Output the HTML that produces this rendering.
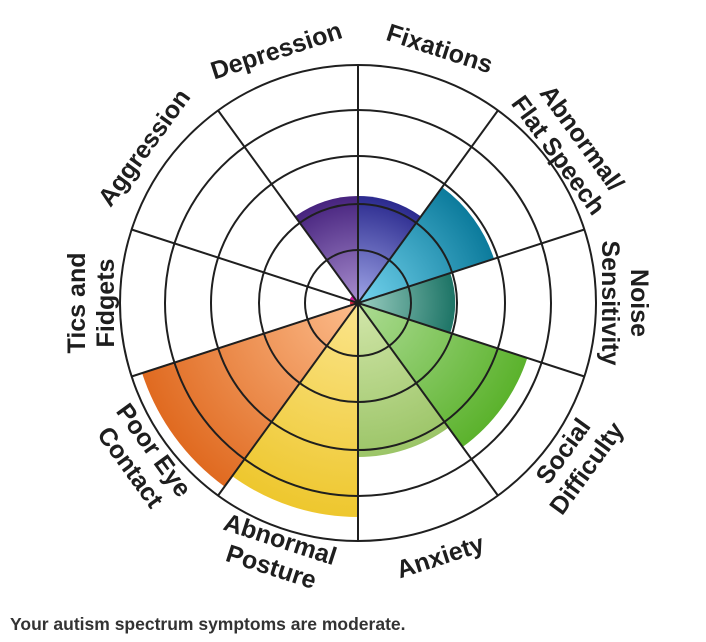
<!DOCTYPE html>
<html><head><meta charset="utf-8"><style>
html,body{margin:0;padding:0;background:#fff;width:706px;height:642px;overflow:hidden}
svg{position:absolute;left:0;top:0}
.cap{position:absolute;left:10px;top:614px;font:bold 17.5px "Liberation Sans",sans-serif;color:#333}
text{font-family:"Liberation Sans",sans-serif;font-weight:bold;font-size:25px;fill:#1e1e1e}
</style></head><body>
<svg width="706" height="642" viewBox="0 0 706 642">
<defs>
<radialGradient id="gFix" gradientUnits="userSpaceOnUse" cx="358" cy="303" r="107"><stop offset="0" stop-color="#a0a6e8"/><stop offset="1" stop-color="#2b2a8e"/></radialGradient>
<radialGradient id="gDep" gradientUnits="userSpaceOnUse" cx="358" cy="303" r="107"><stop offset="0" stop-color="#a98fd0"/><stop offset="1" stop-color="#47237e"/></radialGradient>
<radialGradient id="gFlat" gradientUnits="userSpaceOnUse" cx="358" cy="303" r="143"><stop offset="0" stop-color="#74d4ee"/><stop offset="1" stop-color="#0c7b9c"/></radialGradient>
<radialGradient id="gNoise" gradientUnits="userSpaceOnUse" cx="358" cy="303" r="97"><stop offset="0" stop-color="#9ccfc2"/><stop offset="1" stop-color="#1d7466"/></radialGradient>
<radialGradient id="gSoc" gradientUnits="userSpaceOnUse" cx="358" cy="303" r="178"><stop offset="0" stop-color="#addc94"/><stop offset="1" stop-color="#5bb22c"/></radialGradient>
<radialGradient id="gAnx" gradientUnits="userSpaceOnUse" cx="358" cy="303" r="154"><stop offset="0" stop-color="#d2e6aa"/><stop offset="1" stop-color="#9cc568"/></radialGradient>
<radialGradient id="gPos" gradientUnits="userSpaceOnUse" cx="358" cy="303" r="214"><stop offset="0" stop-color="#fbe58c"/><stop offset="1" stop-color="#eec72e"/></radialGradient>
<radialGradient id="gEye" gradientUnits="userSpaceOnUse" cx="358" cy="303" r="227"><stop offset="0" stop-color="#fcbc8c"/><stop offset="1" stop-color="#e06a20"/></radialGradient>
</defs>
<path d="M358,303 L358,196 A107,107 0 0 1 420.9,216.4 Z" fill="url(#gFix)"/>
<path d="M358,303 L442.1,187.3 A143,143 0 0 1 494.0,258.8 Z" fill="url(#gFlat)"/>
<path d="M358,303 L450.3,273.0 A97,97 0 0 1 450.3,333.0 Z" fill="url(#gNoise)"/>
<path d="M358,303 L527.3,358.0 A178,178 0 0 1 462.6,447.0 Z" fill="url(#gSoc)"/>
<path d="M358,303 L448.5,427.6 A154,154 0 0 1 358,457 Z" fill="url(#gAnx)"/>
<path d="M358,303 L358,517 A214,214 0 0 1 232.2,476.1 Z" fill="url(#gPos)"/>
<path d="M358,303 L224.6,486.6 A227,227 0 0 1 142.1,373.1 Z" fill="url(#gEye)"/>
<path d="M358,303 L350.4,305.5 A8,8 0 0 1 350.4,300.5 Z" fill="#d8203c"/>
<path d="M358,303 L349.4,300.2 A9,9 0 0 1 352.7,295.7 Z" fill="#c8189a"/>
<path d="M358,303 L295.1,216.4 A107,107 0 0 1 358,196 Z" fill="url(#gDep)"/>
<g fill="none" stroke="#1f1f1f" stroke-width="2">
<circle cx="358" cy="303" r="53"/>
<circle cx="358" cy="303" r="99"/>
<circle cx="358" cy="303" r="147"/>
<circle cx="358" cy="303" r="193"/>
<circle cx="358" cy="303" r="238"/>
<line x1="358" y1="65" x2="358" y2="541"/>
<line x1="497.9" y1="110.5" x2="218.1" y2="495.5"/>
<line x1="584.4" y1="229.5" x2="131.6" y2="376.5"/>
<line x1="584.4" y1="376.5" x2="131.6" y2="229.5"/>
<line x1="497.9" y1="495.5" x2="218.1" y2="110.5"/>
</g>
<g text-anchor="middle">
<text transform="translate(439.9,48) rotate(18)" dy="9">Fixations</text>
<text transform="translate(571,146) rotate(54)"><tspan x="0" y="-5">Abnormal/</tspan><tspan x="0" y="24">Flat Speech</tspan></text>
<text transform="translate(626,303) rotate(90)"><tspan x="0" y="-5">Noise</tspan><tspan x="0" y="24">Sensitivity</tspan></text>
<text transform="translate(574,459) rotate(-54)"><tspan x="0" y="-5">Social</tspan><tspan x="0" y="24">Difficulty</tspan></text>
<text transform="translate(440,556) rotate(-18)" dy="9">Anxiety</text>
<text transform="translate(276.1,552) rotate(18)"><tspan x="0" y="-5">Abnormal</tspan><tspan x="0" y="24">Posture</tspan></text>
<text transform="translate(143,458) rotate(54)"><tspan x="0" y="-5">Poor Eye</tspan><tspan x="0" y="24">Contact</tspan></text>
<text transform="translate(90,303) rotate(-90)"><tspan x="0" y="-5">Tics and</tspan><tspan x="0" y="24">Fidgets</tspan></text>
<text transform="translate(143.6,147.2) rotate(-54)" dy="9">Aggression</text>
<text transform="translate(276.1,50) rotate(-18)" dy="9">Depression</text>
</g>
</svg>
<div class="cap">Your autism spectrum symptoms are moderate.</div>
</body></html>
